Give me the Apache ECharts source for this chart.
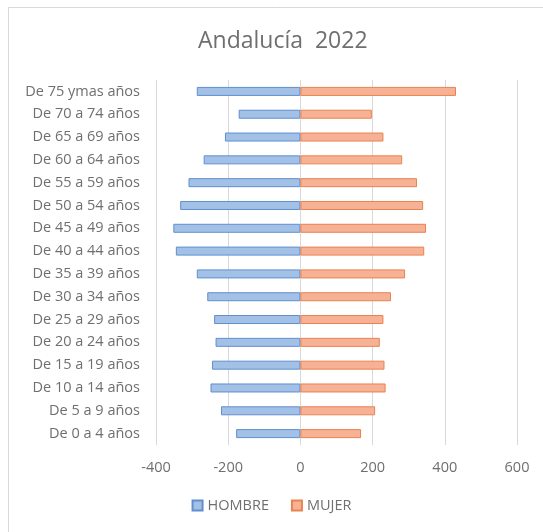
<!DOCTYPE html>
<html><head><meta charset="utf-8">
<script src="https://cdn.jsdelivr.net/npm/echarts@6/dist/echarts.min.js"></script>
<style>html,body{margin:0;padding:0;background:#fff}#c{width:543px;height:532px}</style>
</head><body><div id="c"></div>
<script>
const categories = ["De 0 a 4 años","De 5 a 9 años","De 10 a 14 años","De 15 a 19 años","De 20 a 24 años","De 25 a 29 años","De 30 a 34 años","De 35 a 39 años","De 40 a 44 años","De 45 a 49 años","De 50 a 54 años","De 55 a 59 años","De 60 a 64 años","De 65 a 69 años","De 70 a 74 años","De 75 ymas años"];
const hombre = [-178,-220,-249,-245,-235,-239,-258,-287,-345,-352,-333,-310,-268,-209,-171,-287];
const mujer = [168,207,236,233,220,230,251,290,343,348,340,323,282,230,198,431];
const xTicks = {min:-400,max:600,interval:200};
const titleText = "Andalucía  2022";

const chart = echarts.init(document.getElementById('c'));
const font = "'Open Sans', 'Noto Sans', sans-serif";
chart.setOption({
  animation:false,
  backgroundColor:'#fff',
  title:{text:titleText,left:193,top:25,textStyle:{fontFamily:font,fontSize:23,fontWeight:'normal',color:'#6f6f6f'}},
  grid:{left:156,right:26,top:80,bottom:87,containLabel:false},
  legend:{bottom:14,left:'center',itemWidth:10,itemHeight:10,itemGap:22,itemTextGap:5,icon:'rect',
    textStyle:{fontFamily:font,fontSize:14.5,color:'#6f6f6f'},data:['HOMBRE','MUJER']},
  xAxis:{type:'value',min:xTicks.min,max:xTicks.max,interval:xTicks.interval,
    axisLine:{show:false},axisTick:{show:false},
    axisLabel:{fontFamily:font,fontSize:14.5,color:'#6f6f6f',margin:15},
    splitLine:{lineStyle:{color:'#d9d9d9',width:1}}},
  yAxis:{type:'category',data:categories,axisLine:{show:false},axisTick:{show:false},
    axisLabel:{fontFamily:font,fontSize:14.5,color:'#6f6f6f',margin:16}},
  series:[
    {name:'HOMBRE',type:'bar',data:hombre,barWidth:9,barGap:'-100%',
      itemStyle:{color:'#a3c1e7',borderColor:'#5f8fcf',borderWidth:1}},
    {name:'MUJER',type:'bar',data:mujer,barWidth:9,barGap:'-100%',
      itemStyle:{color:'#f7b195',borderColor:'#e98350',borderWidth:1}}
  ],
  graphic:[
    {type:'line',shape:{x1:8,y1:7.5,x2:543,y2:7.5},style:{stroke:'#d9d9d9',lineWidth:1}},
    {type:'line',shape:{x1:8.5,y1:7,x2:8.5,y2:532},style:{stroke:'#d9d9d9',lineWidth:1}}
  ]
});
</script></body></html>
